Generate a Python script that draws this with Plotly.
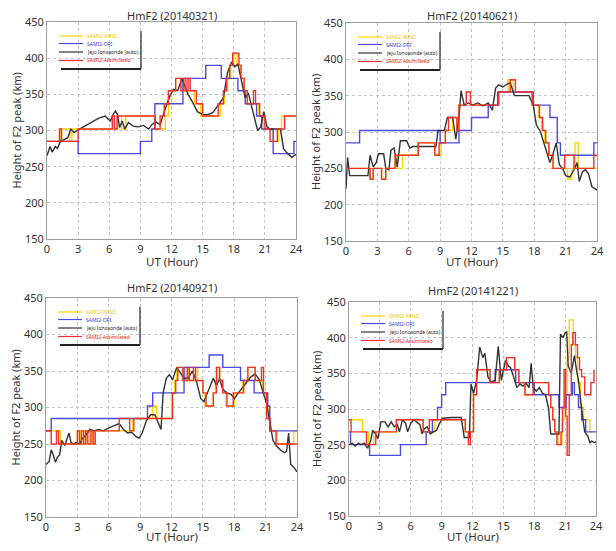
import plotly.graph_objects as go

# page body has an 8px default margin: the figure is sized to fit inside the window
PAGE_W, PAGE_H = 616, 551
OFF = 8
W, H = PAGE_W - 2 * OFF, PAGE_H - 2 * OFF

series_names = ["SAMI2-WIND", "SAMI2-ORI", "Jeju Ionosonde (auto)", "SAMI2-Assimilated"]
panel_titles = ["HmF2 (20140321)", "HmF2 (20140621)", "HmF2 (20140921)", "HmF2 (20141221)"]
x_ticks = [0, 3, 6, 9, 12, 15, 18, 21, 24]
y_ticks = [150, 200, 250, 300, 350, 400, 450]
x_title = "UT (Hour)"
y_title = "Height of F2 peak (km)"

# ---------------- Panel 1 : 20140321 ----------------
p1_wind_t = [0, 1.3, 2.2, 2.4, 6.3, 6.5, 6.8, 7.2, 7.6, 10.4, 11.4, 11.7, 12.0, 12.4, 13.0, 14.2,
             14.8, 16.7, 17.1, 17.4, 17.7, 18.0, 18.3, 18.7, 19.0, 19.3, 20.4, 20.9, 21.8, 22.3, 22.6, 24]
p1_wind_v = [285, 302, 285, 302, 320, 302, 320, 302, 320, 302, 320, 337, 355, 372, 355, 337,
             320, 337, 355, 372, 390, 407, 390, 372, 355, 337, 320, 302, 285, 302, 320, 320]
p1_ori_t = [0, 3.0, 9.0, 10.1, 10.4, 13.1, 15.3, 16.8, 18.4, 19.1, 20.2, 20.7, 21.8, 23.8, 24]
p1_ori_v = [285, 268, 285, 302, 337, 372, 390, 372, 355, 337, 320, 302, 268, 285, 285]
p1_jeju_t = [0, 0.3, 0.5, 0.8, 1.0, 1.3, 1.6, 2.0, 2.3, 2.6, 3.0, 3.5, 4.0, 4.5, 5.0,
             5.6, 6.1, 6.4, 6.6, 6.8, 7.0, 7.25, 7.5, 7.85, 8.3, 8.8, 9.3, 9.8, 10.1, 10.5,
             10.9, 11.4, 11.85, 12.2, 12.6, 13.0, 13.3, 13.6, 14.0, 14.5, 15.0, 15.5, 16.0, 16.5, 17.0,
             17.4, 17.8, 18.1, 18.4, 18.8, 19.1, 19.4, 19.7, 20.0, 20.3, 20.6, 20.9, 21.2, 21.5, 22.0,
             22.5, 22.8, 23.2, 23.6, 24]
p1_jeju_v = [265, 278, 270, 278, 275, 285, 287, 290, 302, 297, 301, 305, 310, 314, 317,
             320, 313, 323, 327, 322, 304, 313, 302, 311, 306, 305, 307, 302, 308, 312,
             308, 330, 348, 357, 355, 372, 360, 350, 340, 326, 322, 322, 325, 335, 345,
             380, 395, 388, 392, 365, 345, 352, 335, 318, 300, 305, 326, 305, 302, 302,
             302, 275, 268, 263, 267]
p1_assim_t = [0, 1.2, 1.4, 3.0, 6.3, 6.5, 6.75, 10.4, 10.9, 11.3, 11.7, 12.4, 12.9, 13.2, 13.4,
              13.6, 13.8, 14.4, 15.0, 16.5, 17.0, 17.3, 17.6, 17.9, 18.5, 18.7, 19.0, 19.3, 19.9, 20.1,
              20.5, 21.0, 21.5, 22.2, 22.9, 24]
p1_assim_v = [285, 302, 285, 302, 320, 302, 320, 302, 320, 337, 355, 372, 355, 372, 355,
              372, 355, 337, 320, 337, 355, 372, 390, 407, 390, 372, 355, 337, 355, 337,
              320, 302, 285, 302, 320, 320]

# ---------------- Panel 2 : 20140621 ----------------
p2_wind_t = [0, 2.3, 2.6, 3.4, 3.8, 4.7, 4.9, 5.4, 6.9, 8.5, 9.1, 9.5, 10.2, 10.6, 10.8,
             11.5, 11.9, 14.6, 15.5, 16.0, 17.8, 18.4, 18.7, 19.0, 19.4, 19.8, 21.2, 21.6, 21.9, 22.2, 24]
p2_wind_v = [250, 235, 250, 235, 250, 268, 250, 268, 285, 268, 285, 302, 320, 302, 337,
             355, 337, 355, 372, 355, 337, 320, 302, 285, 268, 250, 235, 250, 285, 250, 250]
p2_ori_t = [0, 1.3, 9.0, 10.8, 12.0, 13.6, 14.5, 17.9, 19.5, 20.2, 20.5, 23.7, 24]
p2_ori_v = [285, 302, 285, 302, 320, 337, 355, 337, 320, 285, 268, 285, 285]
p2_jeju_t = [0, 0.15, 0.35, 2.1, 2.3, 2.6, 2.9, 3.1, 3.6, 3.8, 4.1, 4.3, 4.6, 4.9, 5.2,
             5.8, 6.1, 6.4, 8.6, 8.8, 9.4, 9.7, 10.2, 10.5, 10.8, 11.0, 11.3, 11.7, 12.1, 12.6,
             13.1, 13.6, 14.0, 14.3, 14.6, 15.0, 15.3, 15.7, 16.1, 17.5, 17.9, 18.2, 18.6, 18.9, 19.2,
             19.5, 19.8, 20.1, 20.4, 20.7, 21.0, 21.4, 21.8, 22.1, 22.3, 22.6, 22.9, 23.2, 23.5, 24]
p2_jeju_v = [222, 265, 240, 240, 268, 252, 258, 270, 270, 250, 248, 275, 278, 252, 288,
             288, 278, 280, 280, 302, 302, 320, 320, 290, 320, 357, 337, 340, 337, 340,
             336, 340, 330, 360, 365, 362, 365, 368, 350, 350, 337, 310, 300, 285, 270,
             258, 270, 285, 255, 250, 240, 238, 248, 258, 232, 245, 248, 242, 225, 220]
p2_assim_t = [0, 2.3, 2.6, 3.4, 3.8, 4.7, 6.9, 8.5, 8.9, 9.5, 9.8, 10.6, 10.8, 11.5, 11.9,
              14.6, 15.7, 16.2, 17.8, 18.5, 18.8, 19.1, 19.4, 19.8, 20.9, 21.8, 23.7, 24]
p2_assim_v = [250, 235, 250, 235, 250, 268, 285, 268, 285, 302, 320, 302, 337, 355, 337,
              355, 372, 355, 337, 320, 302, 285, 268, 250, 268, 250, 268, 268]

# ---------------- Panel 3 : 20140921 ----------------
p3_wind_t = [0, 1.4, 3.0, 3.3, 3.6, 3.9, 4.2, 4.5, 4.7, 8.3, 10.2, 10.6, 12.0, 12.3, 12.5,
             13.0, 13.3, 13.6, 14.3, 14.5, 15.0, 15.2, 16.0, 16.2, 16.4, 16.6, 16.9, 17.2, 18.0, 18.8,
             19.3, 20.0, 20.7, 21.1, 21.3, 21.5, 22.1, 23.7, 24]
p3_wind_v = [268, 250, 268, 250, 268, 250, 268, 250, 268, 285, 302, 285, 320, 337, 355,
             337, 355, 337, 355, 337, 320, 302, 320, 337, 355, 337, 320, 302, 320, 337,
             355, 337, 320, 302, 285, 268, 250, 268, 268]
p3_ori_t = [0, 0.5, 9.7, 10.2, 13.2, 15.6, 16.9, 18.6, 19.9, 21.2, 21.4, 24]
p3_ori_v = [268, 285, 302, 320, 355, 372, 355, 337, 320, 302, 268, 268]
p3_jeju_t = [0, 0.3, 0.5, 0.7, 0.9, 1.1, 1.3, 1.5, 1.8, 2.0, 2.2, 2.4, 2.6, 2.9, 3.2,
             3.5, 3.8, 4.2, 4.6, 5.0, 5.5, 6.0, 6.5, 7.0, 7.4, 7.8, 8.2, 8.6, 8.9, 9.2,
             9.6, 10.0, 10.4, 10.7, 11.0, 11.2, 11.5, 11.8, 12.1, 12.5, 12.8, 13.2, 13.6, 14.0, 14.4,
             14.8, 15.1, 15.4, 15.7, 16.0, 16.3, 16.6, 16.9, 17.3, 17.7, 18.0, 18.4, 18.8, 19.2, 19.6,
             20.0, 20.4, 20.8, 21.1, 21.4, 21.7, 22.0, 22.4, 22.8, 23.0, 23.2, 23.4, 23.7, 24]
p3_jeju_v = [222, 226, 242, 235, 225, 232, 235, 255, 248, 258, 265, 252, 250, 252, 250,
             258, 262, 270, 268, 270, 268, 272, 275, 278, 270, 265, 266, 260, 258, 265,
             282, 290, 290, 280, 270, 320, 340, 345, 338, 355, 348, 340, 340, 350, 335,
             312, 308, 318, 330, 340, 330, 340, 325, 320, 318, 312, 320, 328, 335, 342,
             346, 338, 320, 305, 280, 255, 248, 242, 238, 240, 265, 222, 218, 212]
p3_assim_t = [0, 0.5, 1.0, 1.2, 3.0, 3.2, 3.4, 3.6, 3.8, 4.0, 4.3, 4.5, 4.7, 7.0, 8.0,
              8.4, 12.1, 12.4, 12.6, 13.1, 13.5, 13.7, 14.1, 14.3, 15.0, 15.3, 16.0, 16.3, 16.6, 16.9,
              17.3, 17.9, 18.9, 19.3, 20.0, 20.6, 20.8, 21.1, 21.4, 22.0, 24]
p3_assim_v = [268, 250, 268, 250, 268, 250, 268, 250, 268, 250, 268, 250, 268, 285, 268,
              285, 320, 337, 355, 337, 355, 337, 355, 337, 320, 302, 320, 355, 337, 320,
              302, 320, 337, 355, 337, 355, 320, 285, 268, 250, 250]

# ---------------- Panel 4 : 20141221 ----------------
p4_wind_t = [0, 1.3, 1.9, 2.4, 4.6, 7.2, 8.3, 11.3, 12.1, 12.4, 13.7, 14.6, 15.3, 16.1, 16.5,
             17.1, 17.9, 19.4, 19.6, 19.8, 20.0, 20.3, 20.7, 21.0, 21.2, 21.4, 21.8, 22.0, 22.2, 22.5,
             22.8, 23.4, 23.6]
p4_wind_v = [285, 268, 250, 268, 285, 268, 285, 268, 320, 355, 337, 355, 372, 355, 337,
             320, 337, 320, 302, 285, 268, 250, 285, 320, 372, 425, 390, 372, 337, 302,
             285, 268, 268]
p4_ori_t = [0, 0.15, 2.0, 5.0, 7.5, 8.1, 8.6, 9.0, 9.4, 14.2, 16.2, 18.0, 20.4, 21.1, 21.7,
            21.9, 22.3, 22.6, 23.0, 24]
p4_ori_v = [268, 250, 235, 250, 268, 285, 302, 320, 337, 355, 337, 320, 302, 320, 337,
            320, 302, 285, 268, 268]
p4_jeju_t = [0, 0.3, 0.6, 0.9, 1.2, 1.5, 1.8, 2.1, 2.3, 2.6, 2.8, 3.1, 3.5, 3.8, 4.1,
             4.4, 4.7, 4.9, 5.2, 5.5, 5.7, 6.0, 6.3, 6.6, 6.9, 7.1, 7.3, 7.6, 7.9, 8.2,
             8.5, 8.8, 9.1, 10.0, 10.9, 11.2, 11.7, 11.85, 12.1, 12.4, 12.7, 13.0, 13.2, 13.5, 13.8,
             14.2, 14.5, 14.8, 15.0, 15.2, 15.5, 15.7, 16.0, 16.3, 16.6, 16.9, 17.2, 17.5, 17.7, 17.9,
             18.2, 18.5, 18.8, 19.1, 19.4, 19.6, 20.4, 20.55, 20.8, 21.0, 21.15, 21.3, 21.6, 21.9, 22.1,
             22.3, 22.6, 22.9, 23.2, 23.4, 23.6, 23.8, 24]
p4_jeju_v = [250, 252, 248, 252, 250, 252, 245, 255, 270, 265, 258, 282, 282, 275, 282,
             275, 278, 268, 285, 280, 268, 280, 285, 282, 278, 265, 272, 275, 265, 268,
             270, 280, 287, 288, 288, 260, 260, 335, 322, 340, 387, 372, 378, 345, 338,
             340, 388, 340, 355, 368, 360, 358, 345, 330, 335, 332, 336, 330, 364, 330,
             325, 330, 322, 320, 300, 265, 265, 405, 400, 407, 408, 360, 350, 375, 355,
             340, 300, 268, 262, 253, 255, 253, 254]
p4_assim_t = [0, 0.2, 1.7, 2.6, 4.6, 7.2, 7.8, 11.3, 11.6, 11.8, 12.1, 12.4, 13.7, 14.6, 15.3,
              16.1, 16.5, 17.1, 17.9, 19.4, 19.6, 19.8, 20.0, 20.2, 20.6, 20.75, 20.9, 21.05, 21.2, 21.4,
              21.6, 21.75, 22.0, 22.2, 22.4, 22.6, 22.9, 23.3, 23.5, 23.8]
p4_assim_v = [285, 268, 250, 268, 285, 268, 285, 268, 250, 268, 320, 355, 337, 355, 372,
              355, 337, 320, 337, 320, 302, 285, 268, 250, 268, 302, 355, 290, 235, 320,
              390, 407, 390, 372, 355, 345, 320, 320, 337, 355]

# ---------------- styling / layout ----------------
FONT = "Noto Sans"
TXT = "#333333"
line_colors = ["#ffd400", "#4b4be0", "#333333", "#ee3030"]
label_colors = ["#eec800", "#3a3ae0", "#222222", "#e82020"]
line_shapes = ["hv", "hv", "linear", "hv"]

# boxes in window pixels: (left, right, top, bottom)
panels = [
    dict(data=[(p1_wind_t, p1_wind_v), (p1_ori_t, p1_ori_v), (p1_jeju_t, p1_jeju_v), (p1_assim_t, p1_assim_v)],
         box=(47, 296, 22, 239), title_y=15, xt_y=261, yt_x=16),
    dict(data=[(p2_wind_t, p2_wind_v), (p2_ori_t, p2_ori_v), (p2_jeju_t, p2_jeju_v), (p2_assim_t, p2_assim_v)],
         box=(346, 597, 23, 241), title_y=15, xt_y=262, yt_x=315),
    dict(data=[(p3_wind_t, p3_wind_v), (p3_ori_t, p3_ori_v), (p3_jeju_t, p3_jeju_v), (p3_assim_t, p3_assim_v)],
         box=(46, 297, 298, 517), title_y=287, xt_y=536, yt_x=15),
    dict(data=[(p4_wind_t, p4_wind_v), (p4_ori_t, p4_ori_v), (p4_jeju_t, p4_jeju_v), (p4_assim_t, p4_assim_v)],
         box=(349, 596, 302, 516), title_y=290, xt_y=536, yt_x=316),
]


def px(x):
    return (x - OFF) / W


def py(y):
    return 1 - (y - OFF) / H


fig = go.Figure()
layout = dict(
    width=W, height=H, margin=dict(l=0, r=0, t=0, b=0, autoexpand=False),
    paper_bgcolor="white", plot_bgcolor="white", showlegend=False,
    font=dict(family=FONT, color=TXT, size=11),
)
annotations = []
shapes = []

for i, p in enumerate(panels):
    sfx = "" if i == 0 else str(i + 1)
    for j, (t, v) in enumerate(p["data"]):
        fig.add_trace(go.Scatter(
            x=t, y=v, mode="lines", name=series_names[j], showlegend=False,
            line=dict(color=line_colors[j], width=1.4, shape=line_shapes[j]),
            xaxis="x" + sfx, yaxis="y" + sfx,
        ))
    x0, x1, y0, y1 = p["box"]
    common = dict(showgrid=True, gridcolor="#c4c4c4", griddash="dot", gridwidth=1,
                  showline=True, mirror=True, linecolor="#a0a0a0", linewidth=1,
                  zeroline=False, ticks="", automargin=False,
                  tickfont=dict(size=11, color=TXT, family=FONT))
    layout["xaxis" + sfx] = dict(domain=[px(x0), px(x1)], anchor="y" + sfx, range=[0, 24],
                                 tickvals=x_ticks, ticktext=[str(k) for k in x_ticks], **common)
    layout["yaxis" + sfx] = dict(domain=[py(y1), py(y0)], anchor="x" + sfx, range=[150, 450],
                                 tickvals=y_ticks, ticktext=[str(k) for k in y_ticks], **common)
    cx = (x0 + x1) / 2
    annotations.append(dict(text=panel_titles[i], x=px(cx), y=py(p["title_y"]), xref="paper", yref="paper",
                            showarrow=False, xanchor="center", yanchor="middle",
                            font=dict(size=11, color=TXT, family=FONT)))
    annotations.append(dict(text=x_title, x=px(cx), y=py(p["xt_y"]), xref="paper", yref="paper",
                            showarrow=False, xanchor="center", yanchor="middle",
                            font=dict(size=11.5, color=TXT, family=FONT)))
    annotations.append(dict(text=y_title, x=px(p["yt_x"]), y=py((y0 + y1) / 2), xref="paper", yref="paper",
                            showarrow=False, xanchor="center", yanchor="middle", textangle=-90,
                            font=dict(size=11, color=TXT, family=FONT)))
    # in-panel legend (decoration)
    rows = [14, 21.5, 30, 38.5]
    for j in range(4):
        ly = y0 + rows[j]
        shapes.append(dict(type="line", xref="paper", yref="paper",
                           x0=px(x0 + 12), x1=px(x0 + 36), y0=py(ly), y1=py(ly),
                           line=dict(color=line_colors[j], width=1.2)))
        annotations.append(dict(text=series_names[j], x=px(x0 + 38), y=py(ly), xref="paper", yref="paper",
                                showarrow=False, xanchor="left", yanchor="middle",
                                font=dict(size=5, color=label_colors[j], family=FONT)))
    # shadow of legend box
    shapes.append(dict(type="line", xref="paper", yref="paper",
                       x0=px(x0 + 94), x1=px(x0 + 94), y0=py(y0 + 9), y1=py(y0 + 47),
                       line=dict(color="#222222", width=1.2)))
    shapes.append(dict(type="line", xref="paper", yref="paper",
                       x0=px(x0 + 14), x1=px(x0 + 94), y0=py(y0 + 47), y1=py(y0 + 47),
                       line=dict(color="#222222", width=2)))

layout["annotations"] = annotations
layout["shapes"] = shapes
fig.update_layout(**layout)
fig.write_html("out.html")
